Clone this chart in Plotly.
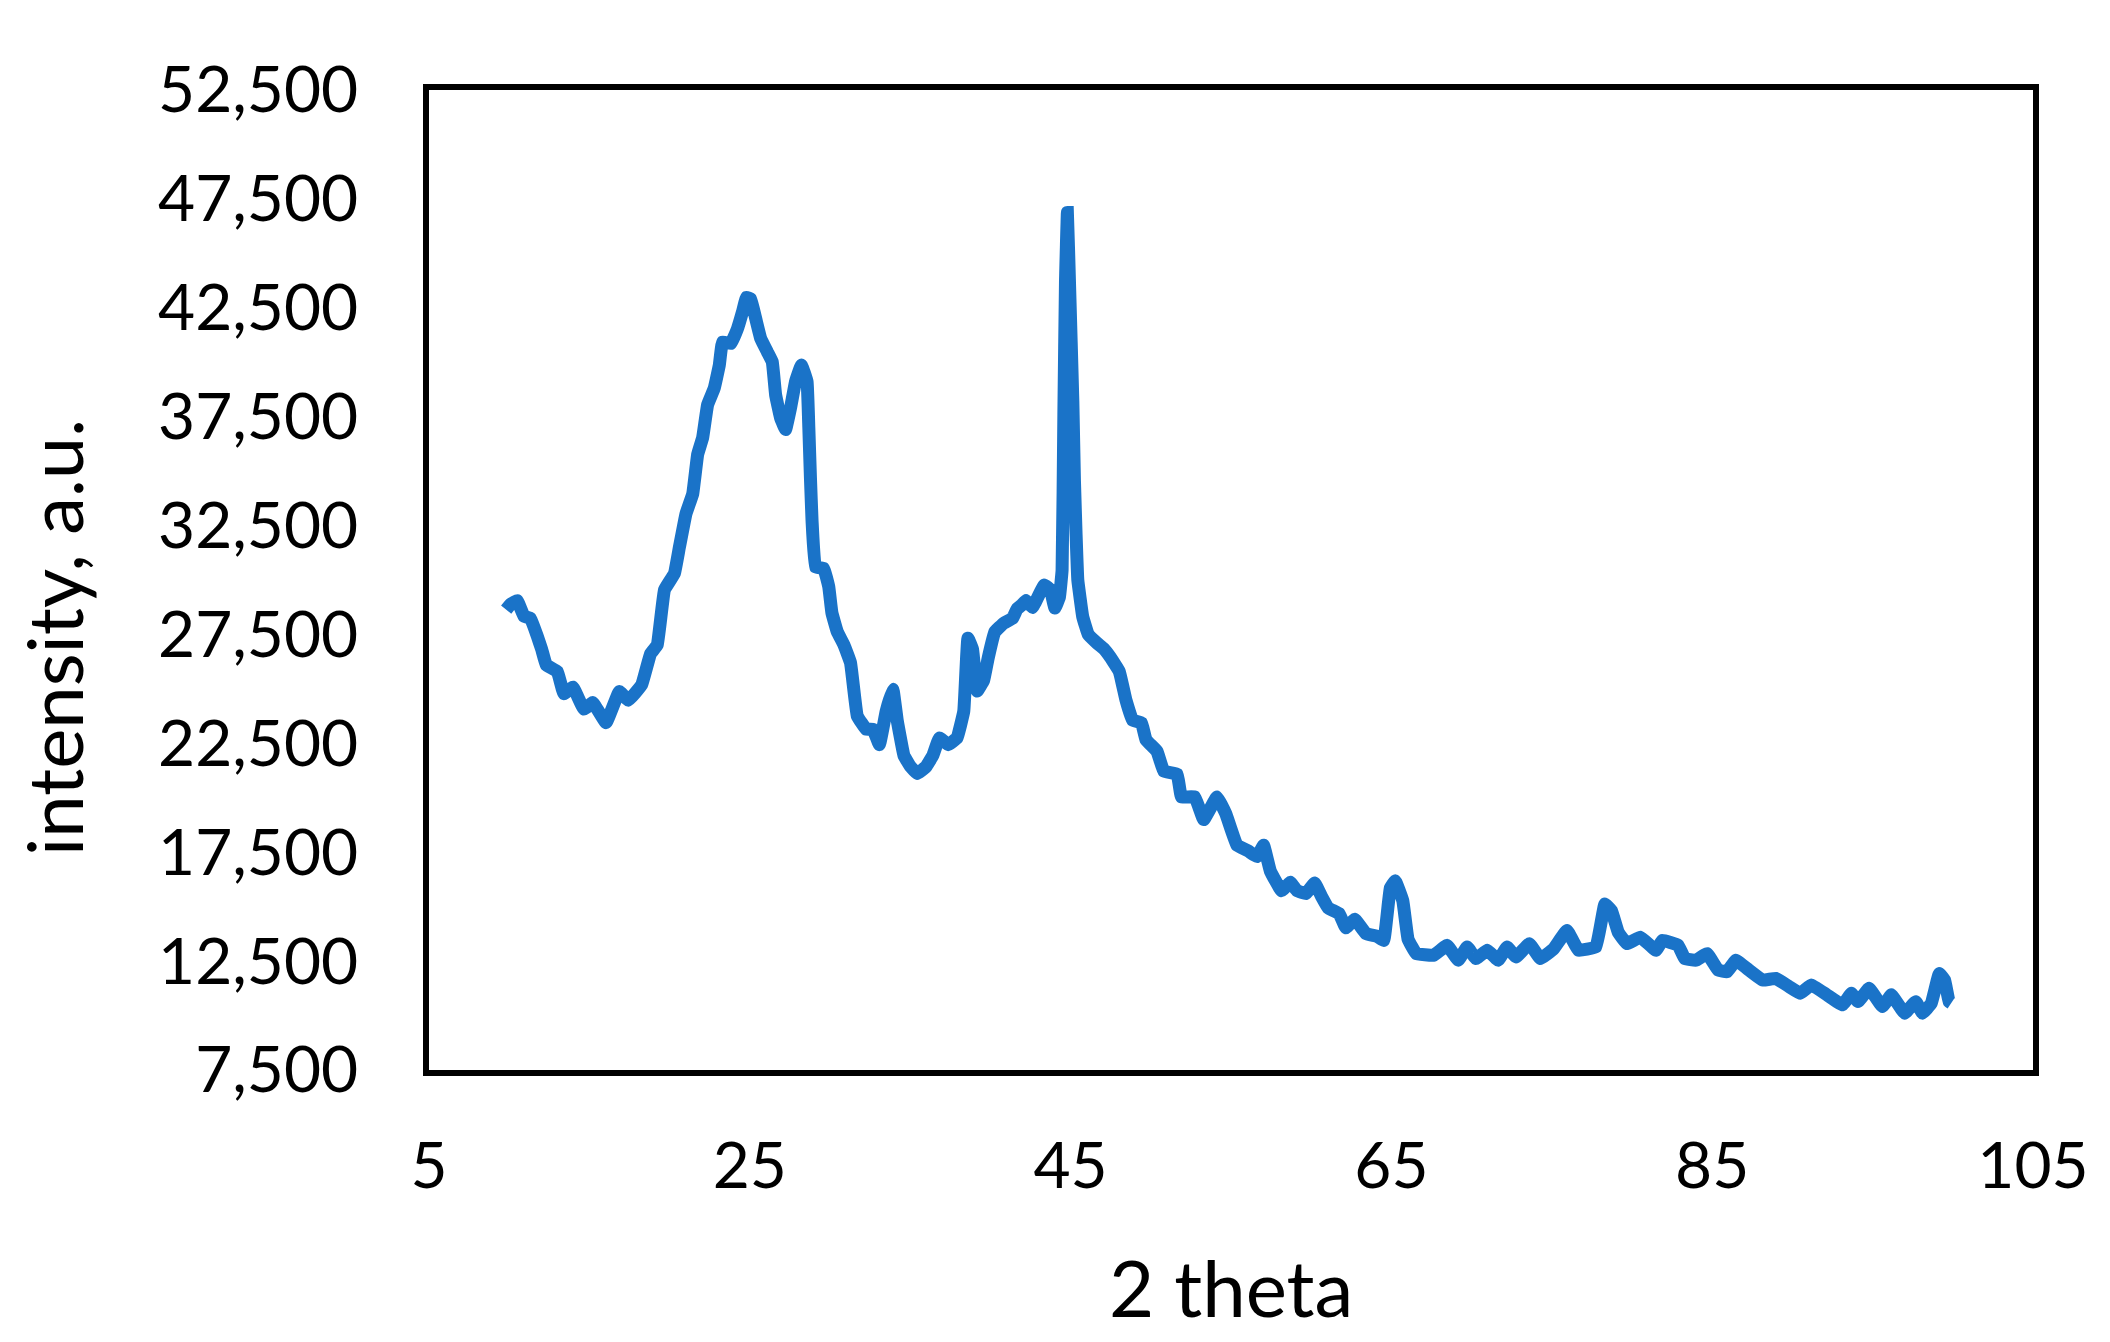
import plotly.graph_objects as go

two_theta = [
    9.81, 10.1, 10.5, 10.92, 11.33, 11.75, 12.03, 12.31, 13.0, 13.41, 13.97, 14.66, 15.21,
    16.04, 16.87, 17.43, 18.26, 18.81, 19.23, 19.68, 20.3, 20.61, 21.02, 21.44, 21.75,
    22.06, 22.37, 22.78, 23.1, 23.3, 23.82, 24.23, 24.54, 24.79, 25.06, 25.37, 25.68,
    26.09, 26.4, 26.61, 26.92, 27.23, 27.54, 27.85, 28.22, 28.57, 28.68, 28.78, 28.88,
    29.09, 29.61, 29.92, 30.12, 30.45, 30.87, 31.28, 31.7, 32.25, 32.67, 33.08, 33.5,
    33.92, 34.19, 34.61, 35.02, 35.44, 35.99, 36.41, 36.82, 37.37, 37.92, 38.34, 38.6,
    38.89, 39.17, 39.58, 39.86, 40.28, 40.84, 41.38, 41.66, 41.94, 42.22, 42.63, 42.77,
    43.36, 43.74, 44.02, 44.3, 44.47, 44.58, 44.68, 44.8, 44.93, 45.14, 45.24, 45.34,
    45.45, 45.76, 46.1, 46.65, 47.07, 47.48, 48.04, 48.45, 48.86, 49.42, 49.7, 50.39,
    50.81, 51.64, 51.91, 52.74, 53.3, 54.13, 54.68, 55.37, 56.07, 56.62, 57.03, 57.45,
    58.15, 58.7, 59.12, 59.67, 60.22, 60.64, 61.06, 61.74, 62.16, 62.72, 63.41, 64.1,
    64.52, 64.93, 65.24, 65.71, 66.04, 66.54, 67.64, 68.47, 69.17, 69.72, 70.27, 70.97,
    71.66, 72.21, 72.77, 73.6, 74.29, 75.12, 75.95, 76.65, 77.75, 78.31, 78.72, 79.14,
    79.69, 80.52, 81.49, 81.9, 82.88, 83.29, 83.98, 84.68, 85.37, 85.92, 86.48, 87.17,
    88.14, 88.97, 89.8, 90.49, 91.18, 92.15, 93.12, 93.68, 94.09, 94.78, 95.61, 96.17,
    97.0, 97.69, 98.11, 98.66, 99.16, 99.49, 99.77, 99.9,
]

intensity = [
    28640, 28900, 29050, 28340, 28240, 27420, 26810, 26100, 25800, 24780, 25080, 24070, 24370,
    23450, 24880, 24480, 25190, 26610, 27020, 29550, 30300, 31500, 33040, 33950, 35770,
    36530, 38050, 38800, 39870, 40930, 40860, 41540, 42300, 42980, 42900, 42000, 41090,
    40480, 40020, 38500, 37440, 36910, 37900, 39110, 39870, 39110, 36990, 34710, 32730,
    30600, 30530, 29700, 28490, 27630, 27020, 26200, 23760, 23150, 23150, 22440, 23970,
    24980, 23560, 21940, 21430, 21120, 21430, 21940, 22750, 22440, 22750, 23970, 27330,
    26810, 24900, 25390, 26410, 27620, 28020, 28240, 28670, 28840, 29060, 28740, 28930,
    29770, 29550, 28710, 29200, 30450, 37610, 43660, 46870, 43660, 38200, 34550, 32140,
    30000, 28300, 27500, 27100, 26840, 26450, 25790, 24490, 23570, 23440, 22660, 22130,
    21220, 21090, 20040, 20040, 19000, 20040, 19260, 17820, 17560, 17300, 17820, 16640,
    15730, 16120, 15730, 15600, 16090, 15470, 14940, 14680, 14030, 14420, 13770, 13640,
    13450, 15850, 16185, 15275, 13505, 12850, 12770, 13225, 12540, 13150, 12615, 13000,
    12540, 13150, 12690, 13300, 12615, 13070, 13910, 13000, 13150, 15120, 14820, 13830,
    13300, 13600, 13000, 13450, 13225, 12615, 12540, 12845, 12085, 12010, 12540, 12160,
    11630, 11705, 11325, 11020, 11405, 10950, 10490, 11020, 10640, 11250, 10415, 10950,
    10110, 10640, 10110, 10565, 11930, 11630, 10640, 10570,
]

x_ticks = [5, 25, 45, 65, 85, 105]
y_ticks = [7500, 12500, 17500, 22500, 27500, 32500, 37500, 42500, 47500, 52500]

FONT = "Lato"

# page has an 8px body margin; figure is sized to fit inside the window
W, H = 2094, 1326
L, R, T, B = 421, 69, 82, 264
PW, PH = W - L - R, H - T - B

fig = go.Figure()
fig.add_trace(go.Scatter(
    x=two_theta, y=intensity, mode="lines",
    line=dict(color="#1A73C8", width=13, shape="spline", smoothing=0.25),
    showlegend=False, hoverinfo="skip",
))

fig.update_layout(
    width=W, height=H,
    margin=dict(l=L, r=R, t=T, b=B),
    paper_bgcolor="white", plot_bgcolor="white",
    font=dict(family=FONT, color="black", size=64),
    xaxis=dict(
        range=[5, 105], tickvals=x_ticks, ticktext=[str(v) for v in x_ticks],
        showgrid=False, zeroline=False, showline=True, linecolor="black",
        linewidth=6, mirror=True, ticks="", ticklabelstandoff=35,
        tickfont=dict(family=FONT, size=64, color="black"),
    ),
    yaxis=dict(
        range=[7500, 52500], tickvals=y_ticks,
        ticktext=[f"{v:,}" for v in y_ticks],
        showgrid=False, zeroline=False, showline=True, linecolor="black",
        linewidth=6, mirror=True, ticks="", ticklabelstandoff=52,
        tickfont=dict(family=FONT, size=64, color="black"),
    ),
    annotations=[
        dict(text="2 theta", xref="paper", yref="paper", x=0.5, y=-217 / PH,
             xanchor="center", yanchor="middle", showarrow=False,
             font=dict(family=FONT, size=78, color="black")),
        dict(text="intensity, a.u.", xref="paper", yref="paper",
             x=-376 / PW, y=432 / PH,
             xanchor="center", yanchor="middle", showarrow=False, textangle=-90,
             font=dict(family=FONT, size=76, color="black")),
    ],
)

fig.write_html("out.html")
